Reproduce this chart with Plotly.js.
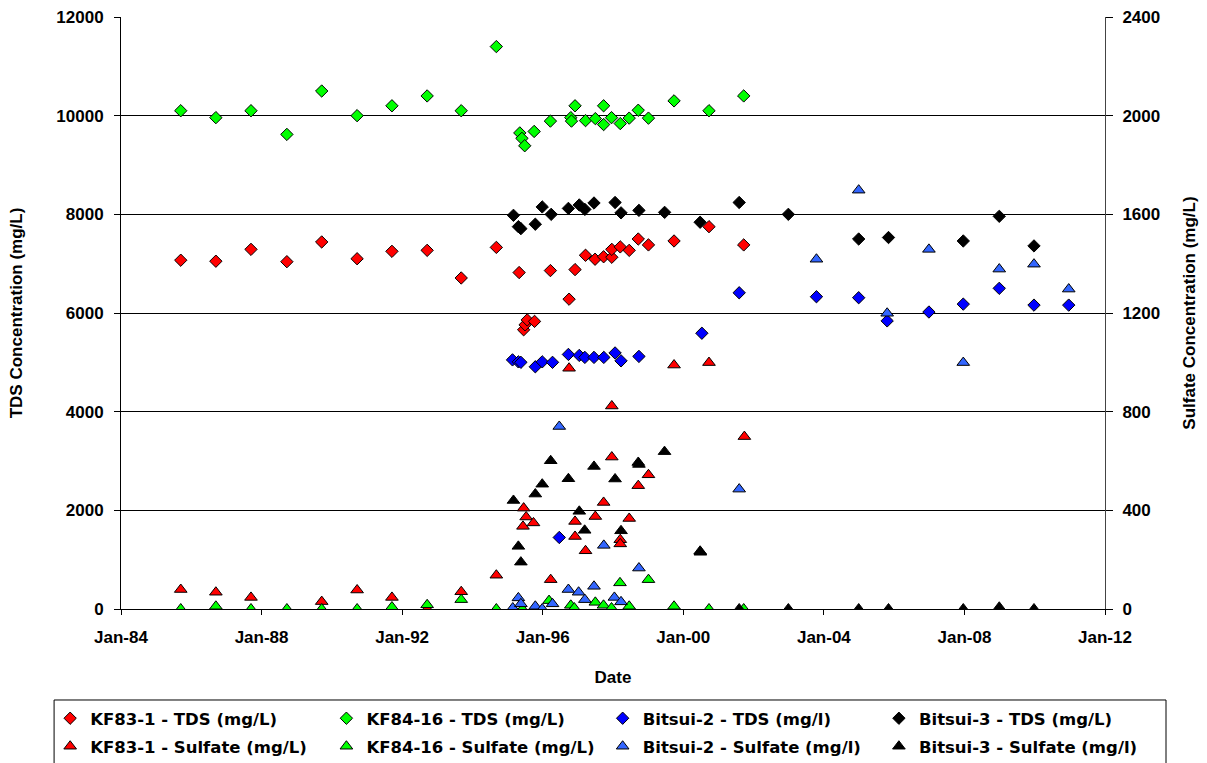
<!DOCTYPE html>
<html>
<head>
<meta charset="utf-8">
<script src="https://cdn.plot.ly/plotly-3.0.1.min.js"></script>
<style>html,body{margin:0;padding:0;background:#fff;}#chart{width:1207px;height:763px;}</style>
</head>
<body>
<div id="chart"></div>
<script>
// ---------- DATA ----------
const kf831TdsDates = ['1985-09-13','1986-09-13','1987-09-13','1988-09-20','1989-09-17','1990-09-20','1991-09-17','1992-09-17','1993-09-06','1994-09-06',
  '1995-05-01','1995-06-17','1995-07-02','1995-07-24','1995-10-08','1996-03-21','1996-10-01','1996-12-02','1997-03-21','1997-06-28',
  '1997-09-25','1997-12-19','1997-12-19','1998-03-17','1998-06-18','1998-09-20','1999-01-04','1999-09-27','2000-09-24','2001-09-20'];
const kf831TdsValues = [7070,7050,7290,7040,7440,7100,7250,7270,6710,7330,
  6820,5660,5760,5860,5830,6860,6280,6880,7170,7090,
  7140,7130,7290,7340,7270,7500,7380,7460,7750,7380];

const kf8416TdsDates = ['1985-09-13','1986-09-13','1987-09-13','1988-09-20','1989-09-17','1990-09-20','1991-09-17','1992-09-17','1993-09-06','1994-09-06',
  '1995-05-08','1995-05-30','1995-06-28','1995-10-04','1996-03-21','1996-10-19','1996-10-26','1996-12-02','1997-03-21','1997-07-01',
  '1997-09-25','1997-09-25','1997-12-16','1998-03-17','1998-06-18','1998-09-20','1999-01-04','1999-09-27','2000-09-24','2001-09-20'];
const kf8416TdsValues = [10100,9960,10100,9620,10500,10000,10200,10400,10100,11400,
  9650,9540,9390,9680,9890,9960,9890,10200,9900,9940,
  10200,9820,9960,9840,9950,10110,9950,10300,10100,10400];

const bitsui2TdsDates = ['1995-02-21','1995-04-23','1995-05-19','1995-10-16','1995-12-27','1996-04-12','1996-06-21','1996-09-24','1997-01-15','1997-03-14',
  '1997-06-17','1997-09-27','1998-01-22','1998-03-25','1998-09-27','2000-07-12','2001-08-04','2003-10-16','2004-12-28','2005-10-20',
  '2006-12-28','2007-12-20','2008-12-28','2009-12-24','2010-12-20'];
const bitsui2TdsValues = [5050,5010,5000,4910,5010,5000,1450,5160,5140,5100,
  5100,5100,5190,5030,5120,5590,6410,6330,6310,5840,
  6020,6180,6500,6160,6160];

const bitsui3TdsDates = ['1995-03-03','1995-04-23','1995-05-19','1995-10-16','1995-12-27','1996-03-29','1996-09-24','1997-01-15','1997-03-14','1997-06-17',
  '1998-01-22','1998-03-25','1998-09-27','1999-06-21','2000-06-24','2001-08-04','2002-12-28','2004-12-28','2005-11-03','2007-12-20',
  '2008-12-28','2009-12-24'];
const bitsui3TdsValues = [7980,7750,7710,7800,8150,8000,8120,8190,8100,8230,
  8240,8030,8080,8040,7840,8240,8000,7500,7530,7460,
  7960,7360];

const kf831SulfDates = ['1985-09-13','1986-09-13','1987-09-13','1989-09-17','1990-09-20','1991-09-17','1992-09-17','1993-09-06','1994-09-06',
  '1995-06-10','1995-06-17','1995-07-13','1995-09-27','1996-03-24','1996-10-01','1996-12-02','1996-12-02','1997-03-21','1997-07-01',
  '1997-09-25','1997-12-19','1997-12-19','1998-03-17','1998-03-17','1998-06-18','1998-09-20','1999-01-04','1999-09-27','2000-09-24','2001-09-27'];
const kf831SulfValues = [79,68,47,30,77,47,0,70,137,
  335,409,373,349,119,976,355,294,236,375,
  432,823,616,281,264,367,500,544,989,999,699];

const kf8416SulfDates = ['1985-09-13','1986-09-13','1987-09-13','1988-09-20','1989-09-17','1990-09-20','1991-09-17','1992-09-17','1993-09-06','1994-09-06',
  '1995-06-03','1996-03-07','1996-10-19','1996-11-24','1997-07-01','1997-09-24','1997-12-16','1998-03-14','1998-06-18','1999-01-04',
  '1999-09-27','2000-09-24','2001-09-20'];
const kf8416SulfValues = [0,11,0,0,0,0,8,17,38,0,
  0,34,15,4,27,15,4,106,11,119,
  11,0,0];

const bitsui2SulfDates = ['1995-02-24','1995-04-23','1995-05-19','1995-10-16','1995-12-27','1996-04-12','1996-06-21','1996-09-24','1997-01-08','1997-03-14',
  '1997-06-17','1997-09-27','1998-01-15','1998-03-25','1998-09-27','2001-08-04','2003-10-16','2004-12-28','2005-10-20','2006-12-28',
  '2007-12-20','2008-12-28','2009-12-24','2010-12-20'];
const bitsui2SulfValues = [4,45,21,11,0,21,740,79,68,38,
  92,258,47,29,166,486,1418,1698,1199,1458,
  999,1378,1398,1297];

const bitsui3SulfDates = ['1995-03-03','1995-04-23','1995-05-19','1995-10-16','1995-12-27','1996-03-24','1996-09-24','1997-01-15','1997-03-12','1997-06-17',
  '1998-01-22','1998-03-25','1998-09-20','1998-09-27','1999-06-20','2000-06-24','2000-06-27','2001-08-04','2002-12-28','2004-12-28',
  '2005-11-03','2007-12-20','2008-12-28','2009-12-24'];
const bitsui3SulfValues = [440,254,190,466,506,601,528,396,319,578,
  527,317,594,586,638,234,230,0,0,0,
  0,0,7,0];

const seriesNames = ['KF83-1 - TDS (mg/L)','KF84-16 - TDS (mg/L)','Bitsui-2 - TDS (mg/l)','Bitsui-3 - TDS (mg/L)',
  'KF83-1 - Sulfate (mg/L)','KF84-16 - Sulfate (mg/L)','Bitsui-2 - Sulfate (mg/l)','Bitsui-3 - Sulfate (mg/l)'];
const xTickLabelFormat = '%b-%y';
// ------------------------------------------------------------

const FONT = 'Liberation Sans, Arial, sans-serif';
const LEGEND_FONT = 'DejaVu Sans, Liberation Sans, sans-serif';
function mk(name, x, y, color, symbol, size, yaxis, legend) {
  return {
    type: 'scatter', mode: 'markers', name: name, x: x, y: y, yaxis: yaxis, legend: legend,
    marker: {symbol: symbol, size: size, color: color, line: {color: '#000000', width: 1}},
    hoverinfo: 'x+y+name'
  };
}
const traces = [
  mk(seriesNames[0], kf831TdsDates, kf831TdsValues, '#FF0000', 'diamond', 9.5, 'y', 'legend'),
  mk(seriesNames[1], kf8416TdsDates, kf8416TdsValues, '#00FF00', 'diamond', 9.5, 'y', 'legend'),
  mk(seriesNames[2], bitsui2TdsDates, bitsui2TdsValues, '#0000FF', 'diamond', 9.5, 'y', 'legend'),
  mk(seriesNames[3], bitsui3TdsDates, bitsui3TdsValues, '#000000', 'diamond', 9.5, 'y', 'legend'),
  mk(seriesNames[4], kf831SulfDates, kf831SulfValues, '#FF0000', 'triangle-up', 11, 'y2', 'legend2'),
  mk(seriesNames[5], kf8416SulfDates, kf8416SulfValues, '#00FF00', 'triangle-up', 11, 'y2', 'legend2'),
  mk(seriesNames[6], bitsui2SulfDates, bitsui2SulfValues, '#3366FF', 'triangle-up', 11, 'y2', 'legend2'),
  mk(seriesNames[7], bitsui3SulfDates, bitsui3SulfValues, '#000000', 'triangle-up', 11, 'y2', 'legend2')
];

const textFont = {family: FONT, size: 17, color: '#000', weight: 'bold'};
const legendCommon = {
  orientation: 'h', x: -0.072, xanchor: 'left', yanchor: 'top',
  entrywidth: 0.25, entrywidthmode: 'fraction',
  bgcolor: 'rgba(0,0,0,0)', borderwidth: 0,
  font: {family: LEGEND_FONT, size: 16.5, color: '#000', weight: 'bold'},
  itemclick: false, itemdoubleclick: false
};

const layout = {
  width: 1207, height: 763,
  margin: {l: 121, r: 102, t: 17, b: 154, pad: 0, autoexpand: false},
  paper_bgcolor: '#FFFFFF', plot_bgcolor: '#FFFFFF',
  font: {family: FONT, color: '#000'},
  xaxis: {
    type: 'date', range: ['1984-01-01', '2012-01-01'],
    tick0: '1984-01-01', dtick: 'M48', tickformat: xTickLabelFormat,
    showgrid: false, zeroline: false,
    showline: true, linecolor: '#000', linewidth: 1,
    ticks: 'outside', ticklen: 5, tickcolor: '#000',
    ticklabelstandoff: 8,
    tickfont: textFont,
    title: {text: 'Date', font: textFont, standoff: 24}
  },
  yaxis: {
    range: [0, 12000], dtick: 2000, tick0: 0, tickformat: 'd',
    showgrid: true, gridcolor: '#000', gridwidth: 1,
    zeroline: false, showline: true, linecolor: '#000', linewidth: 1,
    ticks: 'outside', ticklen: 6, tickcolor: '#000',
    ticklabelstandoff: 7,
    tickfont: textFont,
    title: {text: 'TDS Concentration (mg/L)', font: textFont, standoff: 29}
  },
  yaxis2: {
    range: [0, 2400], dtick: 400, tick0: 0, tickformat: 'd',
    overlaying: 'y', side: 'right', anchor: 'x',
    showgrid: false, zeroline: false, showline: true, linecolor: '#444', linewidth: 1,
    ticks: 'outside', ticklen: 7, tickcolor: '#000',
    ticklabelstandoff: 6,
    tickfont: textFont,
    title: {text: 'Sulfate Concentration (mg/L)', font: textFont, standoff: 23}
  },
  legend: Object.assign({}, legendCommon, {y: -0.1554}),
  legend2: Object.assign({}, legendCommon, {y: -0.2027}),
  shapes: [{
    type: 'rect', xref: 'paper', yref: 'paper',
    x0: -0.068, x1: 1.062, y0: -0.30, y1: -0.1537,
    line: {color: '#000', width: 1}, fillcolor: 'rgba(0,0,0,0)', layer: 'below'
  }],
  showlegend: true
};

Plotly.newPlot('chart', traces, layout, {displayModeBar: false, staticPlot: true});
</script>
</body>
</html>
